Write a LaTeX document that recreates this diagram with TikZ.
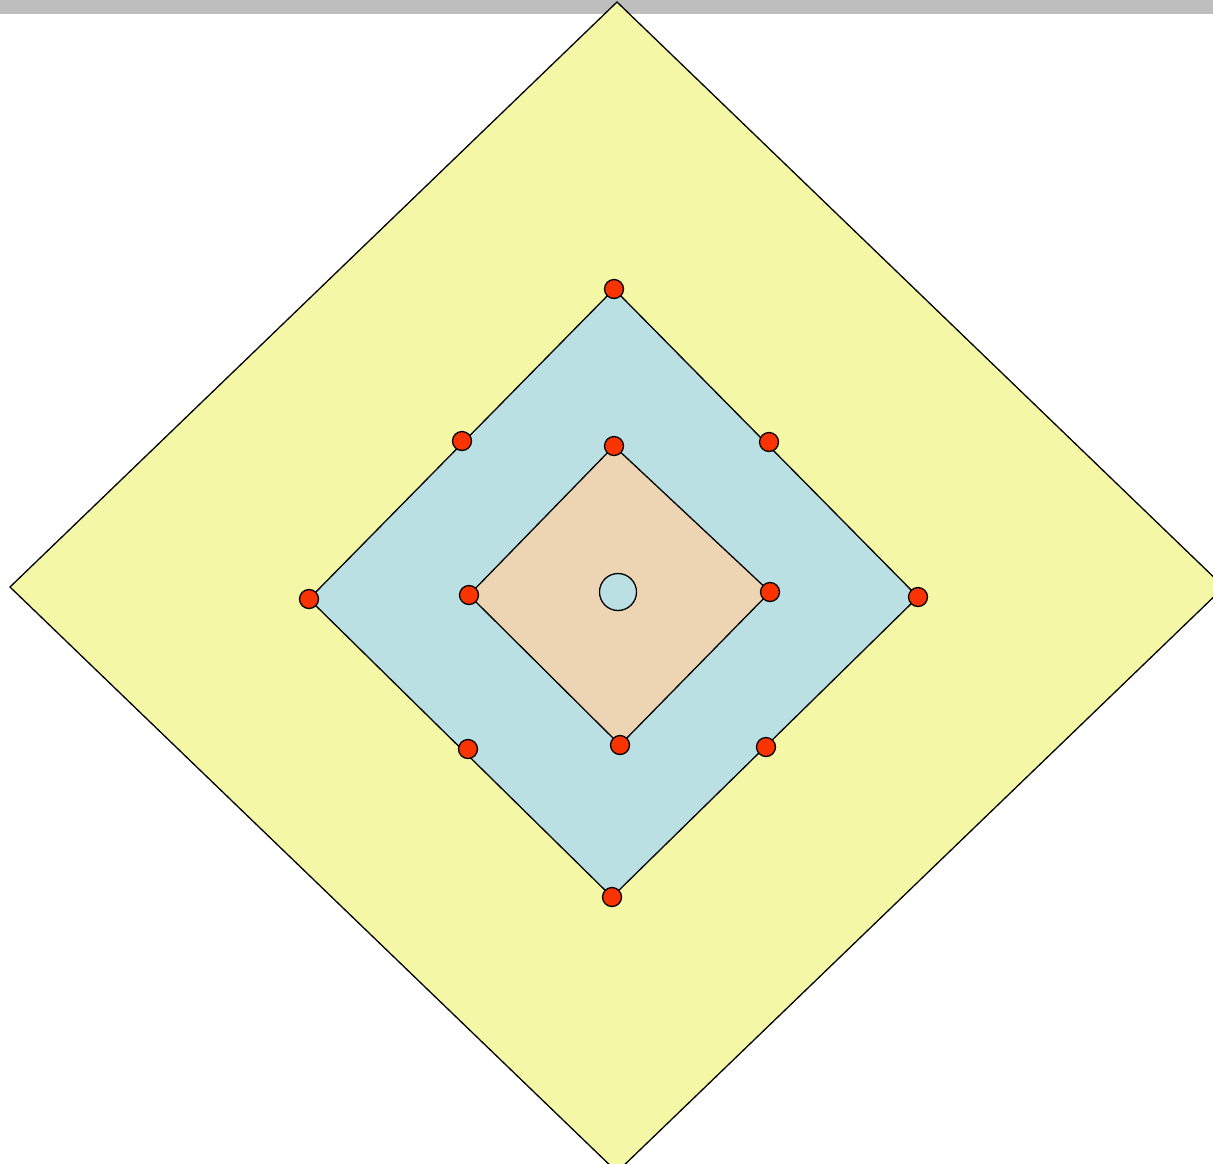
\documentclass[tikz,border=0pt]{standalone}
\definecolor{outery}{RGB}{243,247,166}
\definecolor{midb}{RGB}{187,224,227}
\definecolor{innero}{RGB}{237,213,179}
\definecolor{dotred}{RGB}{250,52,0}
\definecolor{barg}{RGB}{190,190,190}
\tikzset{
  edge/.style={draw=black,line width=0.65pt,line join=miter},
  dot/.style={circle,draw=black,fill=dotred,line width=0.65pt,minimum size=9.5pt,inner sep=0pt},
  hub/.style={circle,draw=black,fill=midb,line width=0.65pt,minimum size=18.5pt,inner sep=0pt}
}
\begin{document}
\begin{tikzpicture}[x=0.5pt,y=-0.5pt]
\useasboundingbox (0,0) rectangle (1213,1163);
\clip (0,0) rectangle (1213,1163);
\fill[barg] (0,0) rectangle (1213,14);
% outer diamond
\coordinate (OT) at (617,2);
\coordinate (OR) at (1224,587);
\coordinate (OB) at (617,1172);
\coordinate (OL) at (10,587);
\filldraw[edge,fill=outery] (OT) -- (OR) -- (OB) -- (OL) -- cycle;
% middle diamond
\coordinate (MT) at (614,289);
\coordinate (MR) at (918,597);
\coordinate (MB) at (612,897);
\coordinate (ML) at (309,599);
\filldraw[edge,fill=midb] (MT) -- (MR) -- (MB) -- (ML) -- cycle;
% inner diamond
\coordinate (IT) at (614,446);
\coordinate (IR) at (770,592);
\coordinate (IB) at (620,745);
\coordinate (IL) at (469,595);
\filldraw[edge,fill=innero] (IT) -- (IR) -- (IB) -- (IL) -- cycle;
% centre
\node[hub] (C) at (618,592) {};
% dots on middle diamond
\node[dot] (d1) at (MT) {};
\node[dot] (d2) at (MR) {};
\node[dot] (d3) at (MB) {};
\node[dot] (d4) at (ML) {};
\node[dot] (d5) at (462,441) {};
\node[dot] (d6) at (769,442) {};
\node[dot] (d7) at (468,749) {};
\node[dot] (d8) at (766,747) {};
% dots on inner diamond
\node[dot] (e1) at (IT) {};
\node[dot] (e2) at (IR) {};
\node[dot] (e3) at (IB) {};
\node[dot] (e4) at (IL) {};
\end{tikzpicture}
\end{document}
